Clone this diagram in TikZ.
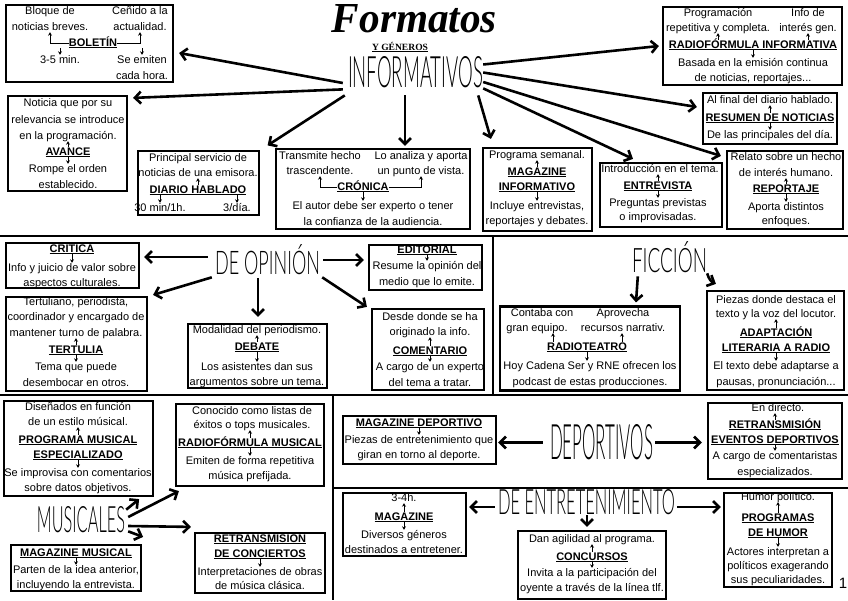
\documentclass[tikz,border=0pt]{standalone}
\usepackage{fontspec}
\setmainfont{Liberation Sans}
\newfontfamily\rotulo{Liberation Serif}
\newfontfamily\fina{Lato Light}
\usepackage{graphicx}
\usetikzlibrary{arrows.meta}

\newcommand\enc[1]{\underline{\textbf{#1}}}

\begin{document}
\begin{tikzpicture}[
		x=1pt,y=-1pt,
		caja/.style={draw=black,line width=2.2pt,inner sep=0pt},
		linea/.style={font=\fontsize{11}{13}\selectfont,inner sep=0pt,text height=8pt,text depth=2pt},
		genero/.style={font=\fina,inner sep=0pt},
		flecha/.style={line width=2.6pt,-{Straight Barb[length=6pt,width=12pt]}},
		flechita/.style={line width=0.8pt,-{Stealth[length=3.5pt,width=4pt]}},
		separador/.style={line width=2.6pt}
	]
		\useasboundingbox (0,0) rectangle (848,600);

		% Section dividers.
		\draw[separador] (0,236) -- (848,236);
		\draw[separador] (493,236) -- (493,395);
		\draw[separador] (0,395) -- (848,395);
		\draw[separador] (333,395) -- (333,600);
		\draw[separador] (333,488) -- (848,488);

		% Title.
		\node[inner sep=0pt] (tit) at (414.5,19) {\resizebox{165pt}{28pt}{\rotulo\bfseries\itshape Formatos}};
		\node[inner sep=0pt] (gen) at (400,47) {\resizebox{56pt}{!}{\rotulo\bfseries\underline{Y GÉNEROS}}};

		% ---------------- Informativos ----------------
		\node[genero] (inf) at (415.5,72.5) {\resizebox{135pt}{31pt}{INFORMATIVOS}};

		\node[caja,minimum width=167pt,minimum height=77pt] (bol) at (89.5,43.5) {};
		\node[linea] (b1) at (50,11) {Bloque de};
		\node[linea] (b2) at (50,27) {noticias breves.};
		\node[linea] (b3) at (140,11) {Ceñido a la};
		\node[linea] (b4) at (140,27) {actualidad.};
		\node[linea] (bt) at (93,43) {\enc{BOLETÍN}};
		\node[linea] (b5) at (60,60) {3-5 min.};
		\node[linea] (b6) at (142,60) {Se emiten};
		\node[linea] (b7) at (142,76) {cada hora.};
		\draw[flechita] (bt.west) -| (b2.south);
		\draw[flechita] (bt.east) -| (b4.south);
		\draw[flechita] (b5.north |- bt.south) -- (b5.north);
		\draw[flechita] (b6.north |- bt.south) -- (b6.north);

		\node[caja,minimum width=119pt,minimum height=95pt] (ava) at (67.5,143.5) {};
		\node[linea] (a1) at (68,103) {Noticia que por su};
		\node[linea] (a2) at (68,120) {relevancia se introduce};
		\node[linea] (a3) at (68,136) {en la programación.};
		\node[linea] (at) at (68,152) {\enc{AVANCE}};
		\node[linea] (a4) at (68,169) {Rompe el orden};
		\node[linea] (a5) at (68,185) {establecido.};
		\draw[flechita] (at.north) -- (at.north |- a3.south);
		\draw[flechita] (at.south) -- (at.south |- a4.north);

		\node[caja,minimum width=121pt,minimum height=64pt] (dia) at (198.5,183) {};
		\node[linea] (d1) at (198,158) {Principal servicio de};
		\node[linea] (d2) at (198,173) {noticias de una emisora.};
		\node[linea] (dt) at (198,190) {\enc{DIARIO HABLADO}};
		\node[linea] (d3) at (160,208) {30 min/1h.};
		\node[linea] (d4) at (237,208) {3/día.};
		\draw[flechita] (dt.north) -- (dt.north |- d2.south);
		\draw[flechita] (d3.north |- dt.south) -- (d3.north);
		\draw[flechita] (d4.north |- dt.south) -- (d4.north);

		\node[caja,minimum width=194pt,minimum height=80pt] (cro) at (373,189) {};
		\node[linea] (c1) at (320,156) {Transmite hecho};
		\node[linea] (c2) at (320,171) {trascendente.};
		\node[linea] (c3) at (421,156) {Lo analiza y aporta};
		\node[linea] (c4) at (421,171) {un punto de vista.};
		\node[linea] (ct) at (363,187) {\enc{CRÓNICA}};
		\node[linea] (c5) at (373,206) {El autor debe ser experto o tener};
		\node[linea] (c6) at (373,222) {la confianza de la audiencia.};
		\draw[flechita] (ct.west) -| (c2.south);
		\draw[flechita] (ct.east) -| (c4.south);
		\draw[flechita] (ct.south) -- (ct.south |- c5.north);

		\node[caja,minimum width=109pt,minimum height=83pt] (mag) at (537.5,189.5) {};
		\node[linea] (m1) at (537,155) {Programa semanal.};
		\node[linea] (mt1) at (537,172) {\enc{MAGAZINE}};
		\node[linea] (mt2) at (537,187) {\enc{INFORMATIVO}};
		\node[linea] (m2) at (537,206) {Incluye entrevistas,};
		\node[linea] (m3) at (537,221) {reportajes y debates.};
		\draw[flechita] (mt1.north) -- (mt1.north |- m1.south);
		\draw[flechita] (mt2.south) -- (mt2.south |- m2.north);

		\node[caja,minimum width=122pt,minimum height=64pt] (ent) at (661,195) {};
		\node[linea] (e1) at (660,169) {Introducción en el tema.};
		\node[linea] (et) at (658,186) {\enc{ENTREVISTA}};
		\node[linea] (e2) at (658,203) {Preguntas previstas};
		\node[linea] (e3) at (658,217) {o improvisadas.};
		\draw[flechita] (et.north) -- (et.north |- e1.south);
		\draw[flechita] (et.south) -- (et.south |- e2.north);

		\node[caja,minimum width=116pt,minimum height=78pt] (rep) at (785,190) {};
		\node[linea] (r1) at (786,157) {Relato sobre un hecho};
		\node[linea] (r2) at (786,173) {de interés humano.};
		\node[linea] (rt) at (786,189) {\enc{REPORTAJE}};
		\node[linea] (r3) at (786,207) {Aporta distintos};
		\node[linea] (r4) at (786,221) {enfoques.};
		\draw[flechita] (rt.north) -- (rt.north |- r2.south);
		\draw[flechita] (rt.south) -- (rt.south |- r3.north);

		\node[caja,minimum width=179pt,minimum height=78pt] (rfi) at (752.5,46) {};
		\node[linea] (i1) at (718,13) {Programación};
		\node[linea] (i2) at (718,28) {repetitiva y completa.};
		\node[linea] (i3) at (808,13) {Info de};
		\node[linea] (i4) at (808,28) {interés gen.};
		\node[linea] (it) at (753,45) {\enc{RADIOFÓRMULA INFORMATIVA}};
		\node[linea] (i5) at (753,63) {Basada en la emisión continua};
		\node[linea] (i6) at (753,78) {de noticias, reportajes...};
		\draw[flechita] (i2.south |- it.north) -- (i2.south);
		\draw[flechita] (i4.south |- it.north) -- (i4.south);
		\draw[flechita] (it.south) -- (it.south |- i5.north);

		\node[caja,minimum width=134pt,minimum height=51pt] (res) at (770,118.5) {};
		\node[linea] (s1) at (770,100) {Al final del diario hablado.};
		\node[linea] (st) at (770,118) {\enc{RESUMEN DE NOTICIAS}};
		\node[linea] (s2) at (770,135) {De las principales del día.};
		\draw[flechita] (st.north) -- (st.north |- s1.south);
		\draw[flechita] (st.south) -- (st.south |- s2.north);

		% Arrows leaving INFORMATIVOS.
		\draw[flecha] ([xshift=-5pt,yshift=-10.5pt]inf.west) -- ([xshift=5pt,yshift=-9.5pt]bol.east);
		\draw[flecha] ([xshift=-5pt,yshift=-1pt]inf.south west) -- ([xshift=5pt,yshift=-3pt]ava.north east);
		\draw[flecha] ([xshift=-3pt,yshift=-7pt]inf.south west) -- ([xshift=7.5pt,yshift=4.5pt]dia.north east);
		\draw[flecha] ([xshift=-10.5pt,yshift=-7pt]inf.south) -- ([xshift=32pt,yshift=2pt]cro.north);
		\draw[flecha] ([yshift=8pt]inf.east) -- ([xshift=-3pt]rfi.west);
		\draw[flecha] (inf.east) -- ([xshift=-5pt,yshift=11.5pt]res.west);
		\draw[flecha] ([yshift=-9.5pt]inf.east) -- ([xshift=-5pt,yshift=-6pt]rep.north west);
		\draw[flecha] (inf.south east) -- ([xshift=-28pt,yshift=3pt]ent.north);
		\draw[flecha] ([xshift=-5pt,yshift=-7pt]inf.south east) -- ([xshift=9pt,yshift=8pt]mag.north west);

		% ---------------- De opinión ----------------
		\node[genero] (opi) at (267.5,260) {\resizebox{105pt}{30pt}{DE OPINIÓN}};

		\node[caja,minimum width=133pt,minimum height=45pt] (cri) at (72.5,265.5) {};
		\node[linea] (kt) at (72,249) {\enc{CRITICA}};
		\node[linea] (k1) at (72,268) {Info y juicio de valor sobre};
		\node[linea] (k2) at (72,283) {aspectos culturales.};
		\draw[flechita] (kt.south) -- (kt.south |- k1.north);

		\node[caja,minimum width=113pt,minimum height=45pt] (edi) at (425.5,267.5) {};
		\node[linea] (ot) at (427,250) {\enc{EDITORIAL}};
		\node[linea] (o1) at (427,266) {Resume la opinión del};
		\node[linea] (o2) at (427,282) {medio que lo emite.};
		\draw[flechita] (ot.south) -- (ot.south |- o1.north);

		\node[caja,minimum width=141pt,minimum height=94pt] (ter) at (76.5,344) {};
		\node[linea] (t1) at (76,302) {Tertuliano, periodista,};
		\node[linea] (t2) at (76,317) {coordinador y encargado de};
		\node[linea] (t3) at (76,333) {mantener turno de palabra.};
		\node[linea] (tt) at (76,350) {\enc{TERTULIA}};
		\node[linea] (t4) at (76,367) {Tema que puede};
		\node[linea] (t5) at (76,383) {desembocar en otros.};
		\draw[flechita] (tt.north) -- (tt.north |- t3.south);
		\draw[flechita] (tt.south) -- (tt.south |- t4.north);

		\node[caja,minimum width=139pt,minimum height=64pt] (deb) at (257.5,356) {};
		\node[linea] (g1) at (257,330) {Modalidad del periodismo.};
		\node[linea] (gt) at (257,347) {\enc{DEBATE}};
		\node[linea] (g2) at (257,367) {Los asistentes dan sus};
		\node[linea] (g3) at (257,382) {argumentos sobre un tema.};
		\draw[flechita] (gt.north) -- (gt.north |- g1.south);
		\draw[flechita] (gt.south) -- (gt.south |- g2.north);

		\node[caja,minimum width=112pt,minimum height=81pt] (com) at (428,349.5) {};
		\node[linea] (q1) at (430,317) {Desde donde se ha};
		\node[linea] (q2) at (430,332) {originado la info.};
		\node[linea] (qt) at (430,351) {\enc{COMENTARIO}};
		\node[linea] (q3) at (430,367) {A cargo de un experto};
		\node[linea] (q4) at (430,383) {del tema a tratar.};
		\draw[flechita] (qt.north) -- (qt.north |- q2.south);
		\draw[flechita] (qt.south) -- (qt.south |- q3.north);

		\draw[flecha] ([xshift=-7pt,yshift=3pt]opi.west) -- ([xshift=4pt,yshift=8.5pt]cri.east);
		\draw[flecha] ([xshift=3pt]opi.east) -- ([xshift=-4pt,yshift=7.5pt]edi.west);
		\draw[flecha] ([xshift=-3pt,yshift=-2pt]opi.south west) -- ([xshift=5pt,yshift=1pt]ter.north east);
		\draw[flecha] ([xshift=-9.5pt,yshift=-3pt]opi.south) -- ([xshift=0.5pt,yshift=6pt]deb.north);
		\draw[flecha] ([xshift=2pt,yshift=-2pt]opi.south east) -- ([xshift=-4pt,yshift=1pt]com.north west);

		% ---------------- Ficción ----------------
		\node[genero] (fic) at (669.5,257.5) {\resizebox{75pt}{31pt}{FICCIÓN}};

		\node[caja,minimum width=180pt,minimum height=84pt] (rad) at (590,348.5) {};
		\node[linea] (n1) at (542,313) {Contaba con};
		\node[linea] (n2) at (537,328) {gran equipo.};
		\node[linea] (n3) at (623,313) {Aprovecha};
		\node[linea] (n4) at (623,328) {recursos narrativ.};
		\node[linea] (nt) at (587,347) {\enc{RADIOTEATRO}};
		\node[linea] (n5) at (590,366) {Hoy Cadena Ser y RNE ofrecen los};
		\node[linea] (n6) at (590,382) {podcast de estas producciones.};
		\draw[flechita] ([xshift=-34pt]nt.north) -- ([xshift=-34pt]nt.north |- n2.south);
		\draw[flechita] ([xshift=35pt]nt.north) -- ([xshift=35pt]nt.north |- n4.south);
		\draw[flechita] (nt.south) -- (nt.south |- n5.north);

		\node[caja,minimum width=137pt,minimum height=99pt] (ada) at (775.5,340.5) {};
		\node[linea] (p1) at (776,300) {Piezas donde destaca el};
		\node[linea] (p2) at (776,314) {texto y la voz del locutor.};
		\node[linea] (pt1) at (776,333) {\enc{ADAPTACIÓN}};
		\node[linea] (pt2) at (776,348) {\enc{LITERARIA A RADIO}};
		\node[linea] (p3) at (776,366) {El texto debe adaptarse a};
		\node[linea] (p4) at (776,382) {pausas, pronunciación...};
		\draw[flechita] (pt1.north) -- (pt1.north |- p2.south);
		\draw[flechita] (pt2.south) -- (pt2.south |- p3.north);

		\draw[flecha] ([xshift=6pt,yshift=-3pt]fic.south west) -- ([xshift=46pt,yshift=3pt]rad.north);
		\draw[flecha] (fic.south east) to[bend right=25] ([xshift=10pt,yshift=6pt]ada.north west);

		% ---------------- Musicales ----------------
		\node[genero] (mus) at (81,520) {\resizebox{88pt}{26pt}{MUSICALES}};

		\node[caja,minimum width=149pt,minimum height=95pt] (pme) at (78.5,448.5) {};
		\node[linea] (u1) at (78,407) {Diseñados en función};
		\node[linea] (u2) at (78,422) {de un estilo músical.};
		\node[linea] (ut1) at (78,440) {\enc{PROGRAMA MUSICAL}};
		\node[linea] (ut2) at (78,455) {\enc{ESPECIALIZADO}};
		\node[linea] (u3) at (78,473) {Se improvisa con comentarios};
		\node[linea] (u4) at (78,488) {sobre datos objetivos.};
		\draw[flechita] (ut1.north) -- (ut1.north |- u2.south);
		\draw[flechita] (ut2.south) -- (ut2.south |- u3.north);

		\node[caja,minimum width=148pt,minimum height=82pt] (rfm) at (250,445) {};
		\node[linea] (v1) at (252,411) {Conocido como listas de};
		\node[linea] (v2) at (252,425) {éxitos o tops musicales.};
		\node[linea] (vt) at (250,443) {\enc{RADIOFÓRMULA MUSICAL}};
		\node[linea] (v3) at (250,461) {Emiten de forma repetitiva};
		\node[linea] (v4) at (250,476) {música prefijada.};
		\draw[flechita] (vt.north) -- (vt.north |- v2.south);
		\draw[flechita] (vt.south) -- (vt.south |- v3.north);

		\node[caja,minimum width=130pt,minimum height=46pt] (mmu) at (76,568) {};
		\node[linea] (wt) at (76,553) {\enc{MAGAZINE MUSICAL}};
		\node[linea] (w1) at (76,570) {Parten de la idea anterior,};
		\node[linea] (w2) at (76,585) {incluyendo la entrevista.};
		\draw[flechita] (wt.south) -- (wt.south |- w1.north);

		\node[caja,minimum width=130pt,minimum height=60pt] (rdc) at (260,563) {};
		\node[linea] (xt1) at (260,539) {\enc{RETRANSMISION}};
		\node[linea] (xt2) at (260,554) {\enc{DE CONCIERTOS}};
		\node[linea] (x1) at (260,572) {Interpretaciones de obras};
		\node[linea] (x2) at (260,586) {de música clásica.};
		\draw[flechita] (xt2.south) -- (xt2.south |- x1.north);

		\draw[flecha] ([xshift=1pt,yshift=-3pt]mus.north east) -- ([xshift=-15pt,yshift=-2pt]pme.south east);
		\draw[flecha] ([xshift=3pt,yshift=3pt]mus.east) -- ([xshift=4pt,yshift=-4pt]rfm.south west);
		\draw[flecha] ([xshift=3pt,yshift=-6pt]mus.east) -- ([xshift=-3pt,yshift=5pt]rdc.north west);
		\draw[flecha] ([xshift=3pt,yshift=2pt]mus.south east) -- ([xshift=1pt,yshift=7pt]mmu.north east);

		% ---------------- Deportivos ----------------
		\node[genero] (dep) at (601.5,442.5) {\resizebox{103pt}{35pt}{DEPORTIVOS}};

		\node[caja,minimum width=153pt,minimum height=48pt] (mde) at (419.5,440) {};
		\node[linea] (yt) at (419,423) {\enc{MAGAZINE DEPORTIVO}};
		\node[linea] (y1) at (419,440) {Piezas de entretenimiento que};
		\node[linea] (y2) at (419,455) {giran en torno al deporte.};
		\draw[flechita] (yt.south) -- (yt.south |- y1.north);

		\node[caja,minimum width=134pt,minimum height=76pt] (red) at (775,441) {};
		\node[linea] (z1) at (778,408) {En directo.};
		\node[linea] (zt1) at (775,425) {\enc{RETRANSMISIÓN}};
		\node[linea] (zt2) at (775,440) {\enc{EVENTOS DEPORTIVOS}};
		\node[linea] (z2) at (775,456) {A cargo de comentaristas};
		\node[linea] (z3) at (775,472) {especializados.};
		\draw[flechita] (zt1.north) -- (zt1.north |- z1.south);
		\draw[flechita] (zt2.south) -- (zt2.south |- z2.north);

		\draw[flecha] ([xshift=-7pt]dep.west) -- ([xshift=1pt,yshift=-2.5pt]mde.east);
		\draw[flecha] ([xshift=2pt]dep.east) -- ([xshift=-5pt,yshift=-1.5pt]red.west);

		% ---------------- De entretenimiento ----------------
		\node[genero] (dent) at (586.5,502.5) {\resizebox{177pt}{25pt}{DE ENTRETENIMIENTO}};

		\node[caja,minimum width=123pt,minimum height=63pt] (mgz) at (404.5,524.5) {};
		\node[linea] (h1) at (404,498) {3-4h.};
		\node[linea] (ht) at (404,517) {\enc{MAGAZINE}};
		\node[linea] (h2) at (404,535) {Diversos géneros};
		\node[linea] (h3) at (404,550) {destinados a entretener.};
		\draw[flechita] (ht.north) -- (ht.north |- h1.south);
		\draw[flechita] (ht.south) -- (ht.south |- h2.north);

		\node[caja,minimum width=148pt,minimum height=68pt] (con) at (592,565) {};
		\node[linea] (l1) at (592,539) {Dan agilidad al programa.};
		\node[linea] (lt) at (592,557) {\enc{CONCURSOS}};
		\node[linea] (l2) at (592,573) {Invita a la participación del};
		\node[linea] (l3) at (592,588) {oyente a través de la línea tlf.};
		\draw[flechita] (lt.north) -- (lt.north |- l1.south);
		\draw[flechita] (lt.south) -- (lt.south |- l2.north);

		\node[caja,minimum width=108pt,minimum height=94pt] (hum) at (778,540) {};
		\node[linea] (j1) at (778,497) {Humor político.};
		\node[linea] (jt1) at (778,518) {\enc{PROGRAMAS}};
		\node[linea] (jt2) at (778,533) {\enc{DE HUMOR}};
		\node[linea] (j2) at (778,552) {Actores interpretan a};
		\node[linea] (j3) at (778,566) {políticos exagerando};
		\node[linea] (j4) at (778,580) {sus peculiaridades.};
		\draw[flechita] (jt1.north) -- (jt1.north |- j1.south);
		\draw[flechita] (jt2.south) -- (jt2.south |- j2.north);

		\draw[flecha] ([xshift=-3pt,yshift=-4.5pt]dent.west) -- ([xshift=2pt,yshift=17.5pt]mgz.east);
		\draw[flecha] ([xshift=2pt,yshift=-4.5pt]dent.east) -- ([xshift=-2pt,yshift=33pt]hum.west);
		\draw[flecha] ([xshift=0.5pt]dent.south) -- ([xshift=-5pt,yshift=3pt]con.north);

		% Page number.
		\node[inner sep=0pt,font=\fontsize{15}{15}\selectfont] (pag) at (843,583) {1};
	\end{tikzpicture}
\end{document}
